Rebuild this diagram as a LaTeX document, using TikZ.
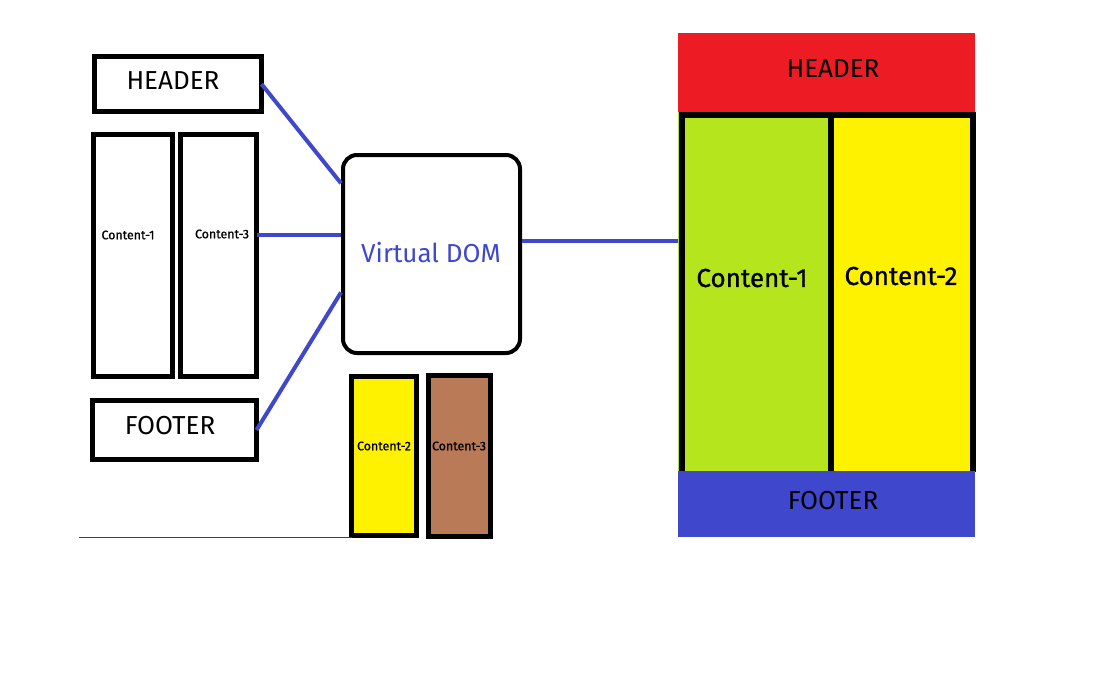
\documentclass[tikz,border=0pt]{standalone}
\usepackage{fontspec}
\setmainfont{Fira Sans}
\newfontfamily\heavyfont{Fira Sans}[BoldFont=Fira Sans, BoldFeatures={FakeBold=0.9}]
\usetikzlibrary{positioning}

\definecolor{linkblue}{RGB}{63,72,204}
\definecolor{hdrred}{RGB}{237,28,36}
\definecolor{leafgreen}{RGB}{181,230,29}
\definecolor{sunyellow}{RGB}{255,242,0}
\definecolor{claybrown}{RGB}{185,122,87}

\tikzset{
  blockbox/.style={draw=black, line width=3.75pt, fill=white, inner sep=0pt, outer sep=0pt},
  biglabel/.style={font=\fontsize{19.5}{22}\selectfont, inner sep=0pt},
  heavylabel/.style={font=\heavyfont\bfseries\fontsize{19.5}{22}\selectfont, inner sep=0pt},
  smalllabel/.style={font=\heavyfont\bfseries\fontsize{9.3}{11}\selectfont, inner sep=0pt},
  link/.style={draw=linkblue, line width=3pt},
}

\begin{document}
\begin{tikzpicture}[x=0.75pt,y=0.75pt,yscale=-1,xscale=1]
\useasboundingbox (0,0) rectangle (1099,686);

%Shape: left header box
\node [blockbox, minimum width=125.25pt, minimum height=41.25pt] (hdrbox) at (178,84) {};
\node [biglabel] (hdrtext) at (173,81) {HEADER};
%Shape: left content boxes
\node [blockbox, minimum width=59.25pt, minimum height=181.5pt] (conta) at (133,255.5) {};
\node [smalllabel] (contatext) at (128,235) {Content-1};
\node [blockbox, minimum width=57pt, minimum height=181.5pt] (contc) at (218.5,255.5) {};
\node [smalllabel] (contctext) at (222,234) {Content-3};
%Shape: left footer box
\node [blockbox, minimum width=123pt, minimum height=44.25pt] (ftrbox) at (174.5,430) {};
\node [biglabel] (ftrtext) at (170,426) {FOOTER};

%Shape: virtual dom
\node [draw=black, line width=3pt, rounded corners=10.5pt, minimum width=132.75pt, minimum height=148.5pt] (vdom) at (431.5,254) {};
\node [biglabel, text=linkblue] (vdomtext) at (431,253) {Virtual DOM};

%Shape: new content boxes
\node [blockbox, fill=sunyellow, minimum width=48.75pt, minimum height=119.25pt] (newb) at (384,456) {};
\node [smalllabel] (newbtext) at (384,446) {Content-2};
\node [blockbox, fill=claybrown, minimum width=46.5pt, minimum height=120.75pt] (newc) at (459.5,456) {};
\node [smalllabel] (newctext) at (459,446) {Content-3};

%Straight Lines: baseline
\coordinate (base) at (79,537);
\draw [color=black!75, line width=0.75pt] (base) -- (base -| newb.west);

%Shape: rendered page
\node [fill=hdrred, inner sep=0pt, minimum width=222.75pt, minimum height=59.25pt] (pagehdr) at (826.5,72.5) {};
\node [biglabel] (pagehdrtext) at (833,69) {HEADER};
\node [fill=leafgreen, inner sep=0pt, minimum width=114.75pt, minimum height=270pt] (pagea) at (754.5,292) {};
\node [fill=sunyellow, inner sep=0pt, minimum width=108pt, minimum height=270pt] (pageb) at (903,292) {};
\draw [line width=4.5pt] (681.5,472) -- (681.5,114.5) -- (972.5,114.5) -- (972.5,472);
\draw [line width=4.5pt] (pagea.north east) -- (pagea.south east);
\node [fill=linkblue, inner sep=0pt, minimum width=222.75pt, minimum height=49.5pt] (pageftr) at (826.5,504) {};
\node [biglabel] (pageftrtext) at (833,501) {FOOTER};
\node [heavylabel] (pageatext) at (752,278) {Content-1};
\node [heavylabel] (pagebtext) at (901,276) {Content-2};

%Straight Lines: links
\draw [link] (hdrbox.east) -- (vdom.142);
\draw [link] (vdom.168 -| contc.east) -- (vdom.168);
\draw [link] (ftrbox.east) -- (vdom.203);
\draw [link] (vdom.8) -- (vdom.8 -| pagea.west);

\end{tikzpicture}
\end{document}
